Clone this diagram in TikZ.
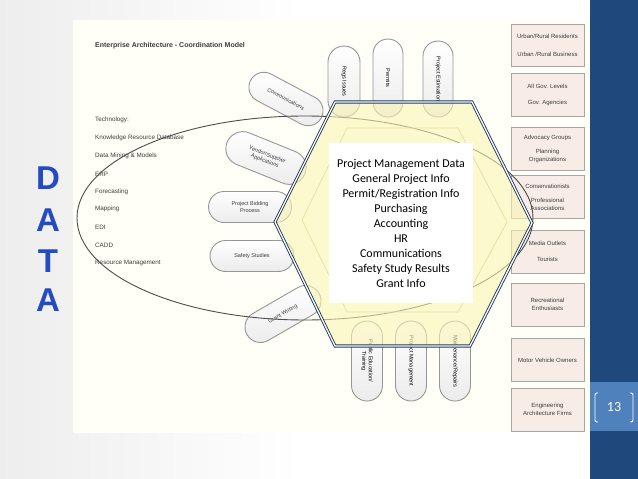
\documentclass[tikz,border=0pt]{standalone}
\usepackage{fontspec}
\setmainfont{Liberation Sans}
\newfontfamily\calib{Carlito}
\usetikzlibrary{shapes.misc,shapes.geometric}
\definecolor{navy}{RGB}{31,73,125}
\definecolor{bandblue}{RGB}{79,129,189}
\definecolor{hexline}{RGB}{30,60,110}
\definecolor{hexfill}{RGB}{250,245,180}
\definecolor{boxfill}{RGB}{247,237,230}
\definecolor{pillline}{RGB}{150,150,150}
\definecolor{txtgray}{RGB}{60,60,60}
\definecolor{datablue}{RGB}{35,75,195}
\definecolor{paper}{RGB}{255,255,248}
\definecolor{innerhex}{RGB}{195,195,145}
\begin{document}
\begin{tikzpicture}[x=1pt,y=-1pt,
 pill/.style={rounded rectangle, draw=pillline, line width=0.9pt, top color=white, bottom color=gray!15, font=\fontsize{5.5}{6.5}\selectfont, text=txtgray, align=center, inner sep=1pt},
 vpill/.style={pill, rotate=-90, text=black},
 rbox/.style={rectangle, draw=gray!70, line width=0.9pt, fill=boxfill, minimum width=73pt, minimum height=43pt, font=\fontsize{6}{8}\selectfont, text=txtgray, align=center, inner sep=1pt},
 item/.style={anchor=west, font=\fontsize{6.3}{7}\selectfont, text=txtgray, inner sep=0pt},
 bigl/.style={font=\fontsize{33}{33}\selectfont\bfseries, text=datablue, inner sep=0pt},
 hexstyle/.style={draw=hexline, double=white!70!hexfill, double distance=1.3pt, line width=0.9pt}
]
\useasboundingbox (0,0) rectangle (638,479);
% slide background
\shade[left color=gray!14, right color=white] (0,0) rectangle (300,479);
\fill[white] (300,0) rectangle (590,479);
\fill[navy] (590,0) rectangle (638,479);
\fill[bandblue] (590,382) rectangle (638,431);
\draw[white, line width=0.9pt, rounded corners=2pt] (598,393) -- (595,393) -- (595,422) -- (598,422);
\draw[white, line width=0.9pt, rounded corners=2pt] (630,393) -- (633,393) -- (633,422) -- (630,422);
\node[text=white, font=\calib\fontsize{14}{14}\selectfont, inner sep=0pt] (pagenum) at (614,407) {13};
% picture paper
\fill[paper] (73,20) rectangle (590,433);
% DATA letters
\node[bigl] (d1) at (48,178) {D};
\node[bigl] (d2) at (48,220) {A};
\node[bigl] (d3) at (48,261) {T};
\node[bigl] (d4) at (48,300) {A};
% title
\node[anchor=west, font=\fontsize{7}{8}\selectfont\bfseries, text=txtgray, inner sep=0pt] (title) at (95,46) {Enterprise Architecture - Coordination Model};
% technology list
\node[item] (t1) at (95,120) {Technology:};
\node[item] (t2) at (95,138) {Knowledge Resource Database};
\node[item] (t3) at (95,156) {Data Mining \& Models};
\node[item] (t4) at (95,174) {ERP};
\node[item] (t5) at (95,192) {Forecasting};
\node[item] (t6) at (95,209) {Mapping};
\node[item] (t7) at (95,227) {EDI};
\node[item] (t8) at (95,245) {CADD};
\node[item] (t9) at (95,263) {Resource Management};
% left pills
\node[pill, minimum width=82pt, minimum height=30pt, rotate=-28] (comm) at (286,99) {Communications};
\node[pill, minimum width=86pt, minimum height=34pt, rotate=-22] (vend) at (266,158) {Vendor/Supplier\\Applications};
\node[pill, minimum width=85pt, minimum height=31pt] (bid) at (250,207) {Project Bidding\\Process};
\node[pill, minimum width=86pt, minimum height=31pt] (safe) at (252,256) {Safety Studies};
\node[pill, minimum width=85pt, minimum height=31pt, rotate=30] (grant) at (283,314) {Grant Writing};
% top pills
\node[vpill, minimum width=73pt, minimum height=32pt] (p1) at (344,81.5) {Regs Issues};
\node[vpill, minimum width=80pt, minimum height=30pt] (p2) at (388,78) {Permits};
\node[vpill, minimum width=78pt, minimum height=30pt] (p3) at (438,79) {Project Estimation};
% bottom pills
\node[vpill, minimum width=82pt, minimum height=31pt] (b1) at (367,361) {Public Education/\\Training};
\node[vpill, minimum width=82pt, minimum height=31pt] (b2) at (411,361) {Project Management};
\node[vpill, minimum width=82pt, minimum height=31pt] (b3) at (455,361) {Maintenance/Repairs};
% right boxes
\node[rbox, minimum height=42pt] (r1) at (547.5,45) {Urban/Rural Residents\\[10pt]Urban /Rural Business};
\node[rbox] (r2) at (547.5,94.5) {All Gov. Levels\\[8pt]Gov. Agencies};
\node[rbox] (r3) at (547.5,148.5) {Advocacy Groups\\[6pt]Planning\\Organizations};
\node[rbox] (r4) at (547.5,197) {Conservationists\\[6pt]Professional\\Associations};
\node[rbox] (r5) at (547.5,251.5) {Media Outlets\\[8pt]Tourists};
\node[rbox] (r6) at (547.5,304.5) {Recreational\\Enthusiasts};
\node[rbox] (r7) at (547.5,360) {Motor Vehicle Owners};
\node[rbox] (r8) at (547.5,409.5) {Engineering\\Architecture Firms};
% big ellipse
\draw[gray!60!black, line width=0.9pt] (305,218) ellipse [x radius=228, y radius=102];
% inner faint hexagon
\draw[innerhex, line width=0.8pt] (347,128) -- (458,128) -- (507,222) -- (458,312) -- (347,312) -- (302,220) -- cycle;
% central hexagon
\draw[hexstyle, fill=hexfill, fill opacity=0.6] (335,102) -- (472,102) -- (532,223) -- (470,346) -- (335,346) -- (275,222) -- cycle;
% data box
\node[fill=white, minimum width=144pt, minimum height=160pt, align=center, inner sep=0pt, font=\calib\fontsize{12}{15}\selectfont, text=black] (databox) at (401,223) {Project Management Data\\General Project Info\\Permit/Registration Info\\Purchasing\\Accounting\\HR\\Communications\\Safety Study Results\\Grant Info};
\end{tikzpicture}
\end{document}
